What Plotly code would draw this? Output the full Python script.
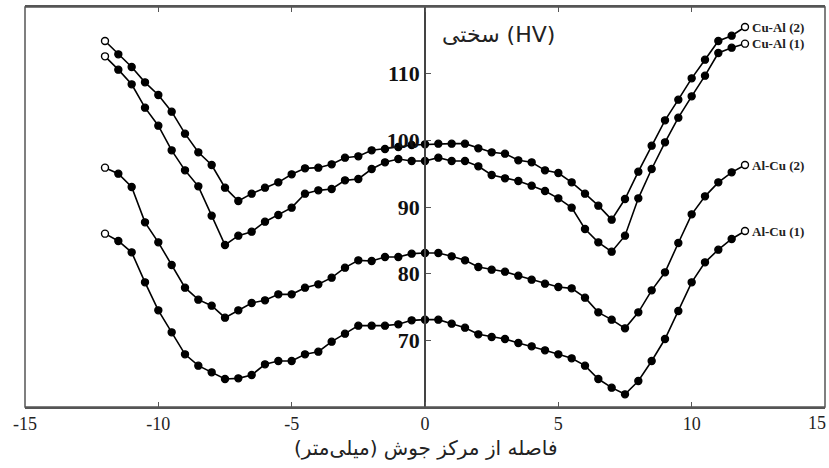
import plotly.graph_objects as go

# distance from weld centre (mm)
distance = [i * 0.5 for i in range(-24, 25)]

cu_al_2 = [114.9, 112.9, 111.0, 108.7, 106.8, 104.3, 101.0, 98.2, 96.3, 92.9, 90.9,
           92.0, 92.9, 93.7, 94.9, 95.8, 95.9, 96.4, 97.4, 97.6, 98.5, 98.7, 99.0, 99.3,
           99.4, 99.5, 99.5, 99.5, 98.8, 98.2, 98.0, 97.0, 96.7, 95.5, 95.1, 93.7, 92.0,
           90.2, 88.1, 91.2, 95.3, 99.2, 103.0, 106.1, 109.3, 112.1, 114.9, 115.7, 117.0]
cu_al_1 = [112.6, 110.6, 108.4, 104.9, 102.2, 98.5, 95.5, 93.1, 88.7, 84.3, 85.7,
           86.3, 87.8, 88.8, 89.9, 92.0, 92.5, 92.7, 94.0, 94.2, 95.7, 96.7, 97.2, 96.9,
           96.9, 97.4, 96.9, 96.9, 96.1, 94.8, 94.3, 93.9, 93.2, 92.4, 91.3, 89.9, 86.7,
           84.7, 83.3, 85.7, 91.3, 95.7, 99.7, 103.4, 106.6, 109.7, 113.1, 113.9, 114.5]
al_cu_2 = [95.9, 95.0, 93.0, 87.7, 84.7, 81.3, 77.9, 76.1, 75.2, 73.4, 74.5,
           75.6, 76.0, 76.9, 76.9, 77.9, 78.4, 79.4, 80.9, 82.0, 81.9, 82.5, 82.5, 83.0,
           83.1, 83.1, 82.6, 82.0, 81.0, 80.6, 80.3, 79.7, 79.1, 78.5, 78.0, 77.8, 76.4,
           74.2, 73.1, 71.8, 74.2, 77.5, 80.2, 84.6, 88.9, 91.6, 93.7, 95.2, 96.3]
al_cu_1 = [86.0, 84.9, 83.2, 78.7, 74.5, 71.2, 67.9, 66.2, 65.2, 64.2, 64.3,
           64.8, 66.4, 66.9, 66.9, 67.9, 68.3, 69.8, 71.0, 72.2, 72.2, 72.2, 72.4, 73.0,
           73.1, 73.1, 72.5, 71.9, 70.9, 70.5, 70.2, 69.6, 69.1, 68.5, 67.9, 67.3, 66.2,
           64.2, 62.9, 61.9, 63.9, 66.9, 70.2, 74.4, 78.7, 81.7, 83.6, 85.2, 86.4]

series_names = ["Cu-Al (2)", "Cu-Al (1)", "Al-Cu (2)", "Al-Cu (1)"]
series_values = [cu_al_2, cu_al_1, al_cu_2, al_cu_1]

x_ticks = [-15, -10, -5, 0, 5, 10, 15]
x_tick_labels = ["-15", "-10", "-5", "0", "5", "10", "15"]
y_ticks = [70, 80, 90, 100, 110]
y_tick_labels = ["70", "80", "90", "100", "110"]

y_title = "سختی (HV)"
x_title = "فاصله از مرکز جوش (میلی‌متر)"

serif = "Liberation Serif, Times New Roman, serif"

fig = go.Figure()
for name, vals in zip(series_names, series_values):
    n = len(vals)
    fills = ["white"] + ["black"] * (n - 2) + ["white"]
    fig.add_trace(go.Scatter(
        x=distance, y=vals, mode="lines+markers", name=name,
        line=dict(color="black", width=1.6),
        marker=dict(size=7, color=fills, line=dict(color="black", width=1.4)),
        showlegend=False,
    ))
    fig.add_annotation(x=distance[-1], y=vals[-1], text=name,
                       xref="x", yref="y", xanchor="left", yanchor="middle",
                       xshift=5, showarrow=False,
                       font=dict(family=serif, size=13, color="#222", weight="bold"))

# the last x tick label sits at the right page edge; keep it inside the page
fig.add_annotation(x=x_ticks[-1], y=0, xref="x", yref="paper", text=x_tick_labels[-1],
                   xanchor="right", yanchor="top", xshift=3, yshift=-4, showarrow=False,
                   font=dict(family=serif, size=18, color="#222"))

fig.add_annotation(x=0.55, y=115.9, xref="x", yref="y", text=y_title,
                   xanchor="left", yanchor="middle", showarrow=False,
                   font=dict(family="DejaVu Sans", size=22, color="#222"))
fig.add_annotation(x=0.5, y=-0.102, xref="paper", yref="paper", text=x_title,
                   xanchor="center", yanchor="middle", showarrow=False,
                   font=dict(family="DejaVu Sans", size=20, color="#222"))

fig.add_shape(type="rect", xref="paper", yref="paper", x0=0, y0=0, x1=1, y1=1,
              line=dict(color="#555", width=1.5), layer="above")

fig.update_layout(
    width=829, height=468,
    margin=dict(l=25, r=4, t=7, b=61),
    paper_bgcolor="white", plot_bgcolor="white",
    xaxis=dict(range=[-15, 15], tickvals=x_ticks, ticktext=x_tick_labels,
               ticks="inside", ticklen=5, automargin=False,
               tickcolor="#555", showline=True, linecolor="#555", linewidth=1.5,
               mirror="ticks", showgrid=False, zeroline=False,
               tickfont=dict(family=serif, size=18, color="#222")),
    yaxis=dict(range=[60, 120], tickvals=y_ticks, ticktext=y_tick_labels,
               ticks="inside", ticklen=5, automargin=False,
               tickcolor="#555", showline=True, linecolor="#444", linewidth=1.5,
               anchor="free", position=0.5, side="left", showgrid=False,
               zeroline=False,
               tickfont=dict(family=serif, size=22, color="#111", weight="bold")),
)

fig.write_html("out.html", config={"displayModeBar": False},
               post_script="document.body.style.margin='0';document.body.style.overflow='hidden';")
